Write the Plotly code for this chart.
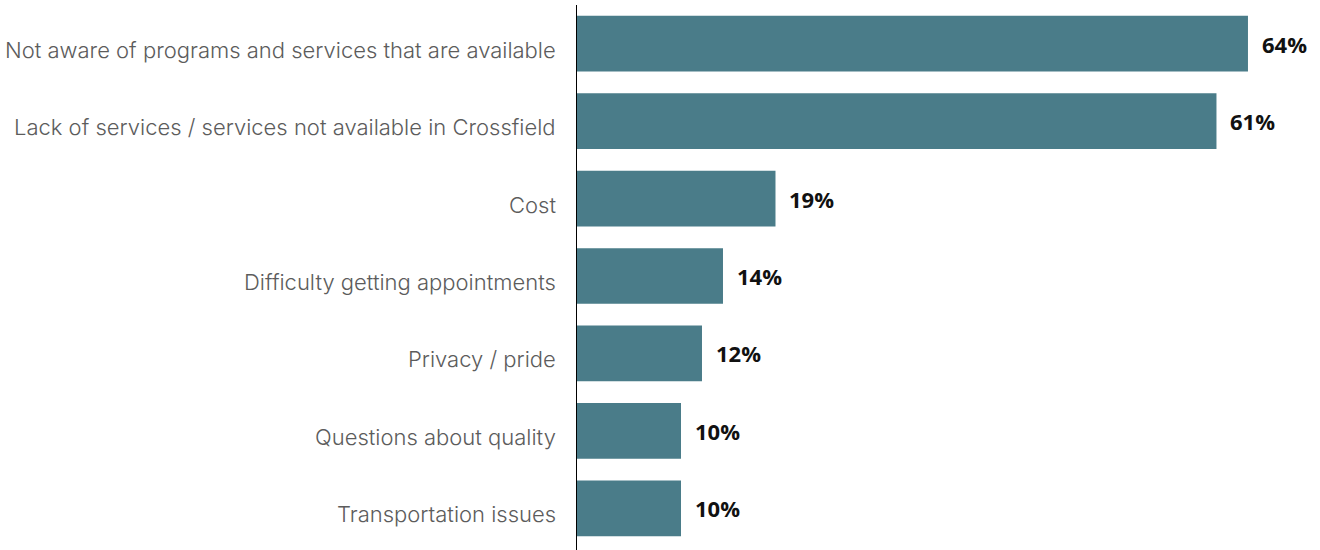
import plotly.graph_objects as go

categories = [
    "Not aware of programs and services that are available",
    "Lack of services / services not available in Crossfield",
    "Cost",
    "Difficulty getting appointments",
    "Privacy / pride",
    "Questions about quality",
    "Transportation issues",
]
values = [64, 61, 19, 14, 12, 10, 10]
value_labels = [f"{v}%" for v in values]

BAR_COLOR = "#4a7c89"

fig = go.Figure(
    go.Bar(
        x=values,
        y=categories,
        orientation="h",
        marker=dict(color=BAR_COLOR, line=dict(width=0)),
        hoverinfo="skip",
    )
)

for cat, v, lab in zip(categories, values, value_labels):
    # Category name, right-aligned left of the baseline
    fig.add_annotation(
        x=0, y=cat, text=cat, xanchor="right", yanchor="middle",
        xshift=-18, yshift=-6, showarrow=False,
        font=dict(family="Inter", size=22, color="#5c5c5c", weight=300),
    )
    # Bold value label to the right of the bar
    fig.add_annotation(
        x=v, y=cat, text=lab, xanchor="left", yanchor="middle",
        xshift=12, yshift=0, showarrow=False,
        font=dict(family="Open Sans", size=22, color="#111111", weight="bold"),
    )

# Vertical baseline at zero, running the full height
fig.add_shape(
    type="line", xref="x", yref="paper", x0=0, x1=0, y0=-0.01, y1=1.0,
    line=dict(color="#000000", width=2),
)

fig.update_layout(
    width=1320, height=550,
    margin=dict(l=576, r=0, t=5, b=3),
    paper_bgcolor="white", plot_bgcolor="white",
    bargap=0.28,
    showlegend=False,
    xaxis=dict(range=[0, 70.86], visible=False, fixedrange=True),
    yaxis=dict(
        autorange="reversed",
        showgrid=False, zeroline=False, showline=False,
        showticklabels=False, ticks="",
        fixedrange=True,
    ),
)

fig.write_html("out.html")
